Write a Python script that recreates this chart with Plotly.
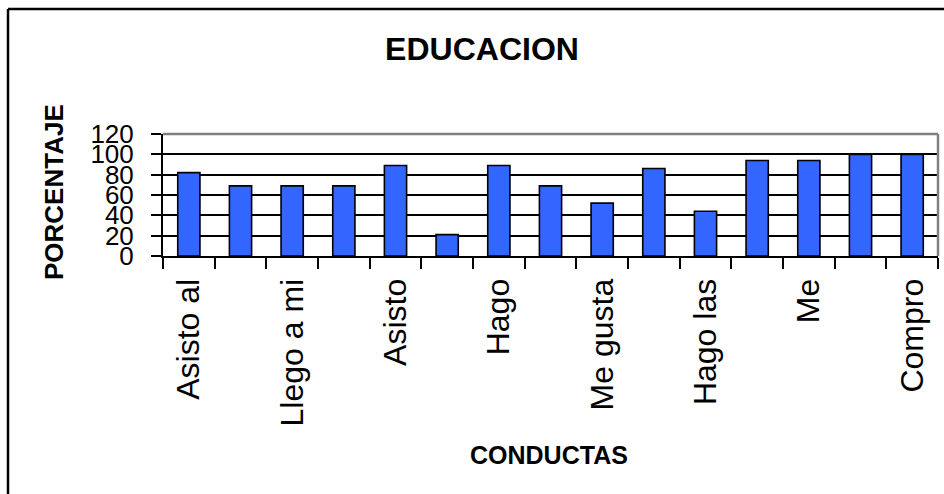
import plotly.graph_objects as go

# ---- data ----
categories = ["Asisto al", "Conducta 2", "Llego a mi", "Conducta 4", "Asisto",
              "Conducta 6", "Hago", "Conducta 8", "Me gusta", "Conducta 10",
              "Hago las", "Conducta 12", "Me", "Conducta 14", "Compro"]
values = [82, 69, 69, 69, 89, 21, 89, 69, 52, 86, 44, 94, 94, 100, 100]
tick_labels = ["Asisto al", "", "Llego a mi", "", "Asisto", "", "Hago", "",
               "Me gusta", "", "Hago las", "", "Me", "", "Compro"]
y_ticks = [0, 20, 40, 60, 80, 100, 120]

# ---- layout geometry (pixels) ----
W, H = 944, 494
L, R, T, B = 163, 6, 134, 238
PW = W - L - R
PH = H - T - B

def px_x(p):
    return (p - L) / PW

def px_y(p):
    return (H - B - p) / PH

FONT = "Arial, Liberation Sans, sans-serif"

fig = go.Figure(
    go.Bar(
        x=categories,
        y=values,
        width=0.43,
        marker=dict(color="#3366FF", line=dict(color="black", width=1.6)),
    )
)

fig.update_layout(
    width=W,
    height=H,
    margin=dict(l=L, r=R, t=T, b=B, pad=0),
    paper_bgcolor="white",
    plot_bgcolor="white",
    showlegend=False,
    title=dict(
        text="<b>EDUCACION</b>",
        font=dict(family=FONT, size=32, color="black"),
        x=482 / W, xref="container", xanchor="center",
        y=1 - 48.5 / H, yref="container", yanchor="middle",
    ),
    xaxis=dict(
        type="category",
        tickvals=categories,
        ticktext=tick_labels,
        tickson="boundaries",
        ticks="outside",
        ticklen=11,
        tickwidth=2,
        tickcolor="black",
        showline=True,
        linecolor="black",
        linewidth=2,
        showgrid=False,
        tickangle=-90,
        tickfont=dict(family=FONT, size=32, color="black"),
        ticklabelstandoff=8,
        range=[-0.5, len(categories) - 0.5],
    ),
    yaxis=dict(
        range=[0, 120],
        tickvals=y_ticks,
        ticks="outside",
        ticklen=10,
        tickwidth=2,
        tickcolor="black",
        showline=True,
        linecolor="black",
        linewidth=2,
        showgrid=True,
        gridcolor="black",
        gridwidth=1.6,
        zeroline=False,
        tickfont=dict(family=FONT, size=26, color="black"),
        ticklabelstandoff=12,
    ),
    annotations=[
        dict(text="<b>PORCENTAJE</b>", textangle=-90, showarrow=False,
             xref="paper", yref="paper", x=px_x(54), y=px_y(192),
             xanchor="center", yanchor="middle",
             font=dict(family=FONT, size=26, color="black")),
        dict(text="<b>CONDUCTAS</b>", showarrow=False,
             xref="paper", yref="paper", x=px_x(549), y=px_y(455),
             xanchor="center", yanchor="middle",
             font=dict(family=FONT, size=25, color="black")),
    ],
    shapes=[
        # gray plot-area border (top and right)
        dict(type="line", xref="x domain", yref="y domain", x0=0, x1=1, y0=1, y1=1,
             line=dict(color="#808080", width=2.5), layer="above"),
        dict(type="line", xref="x domain", yref="y domain", x0=1, x1=1, y0=0, y1=1,
             line=dict(color="#808080", width=2.5), layer="above"),
        # outer chart frame (top and left, extends beyond the image)
        dict(type="line", xref="paper", yref="paper",
             x0=px_x(8), x1=px_x(W + 20), y0=px_y(9), y1=px_y(9),
             line=dict(color="black", width=2.5)),
        dict(type="line", xref="paper", yref="paper",
             x0=px_x(8), x1=px_x(8), y0=px_y(9), y1=px_y(H + 20),
             line=dict(color="black", width=2.5)),
    ],
)

fig.write_html(
    "out.html",
    config={"displayModeBar": False},
    post_script="document.body.style.margin='0';document.body.style.overflow='hidden';",
)
